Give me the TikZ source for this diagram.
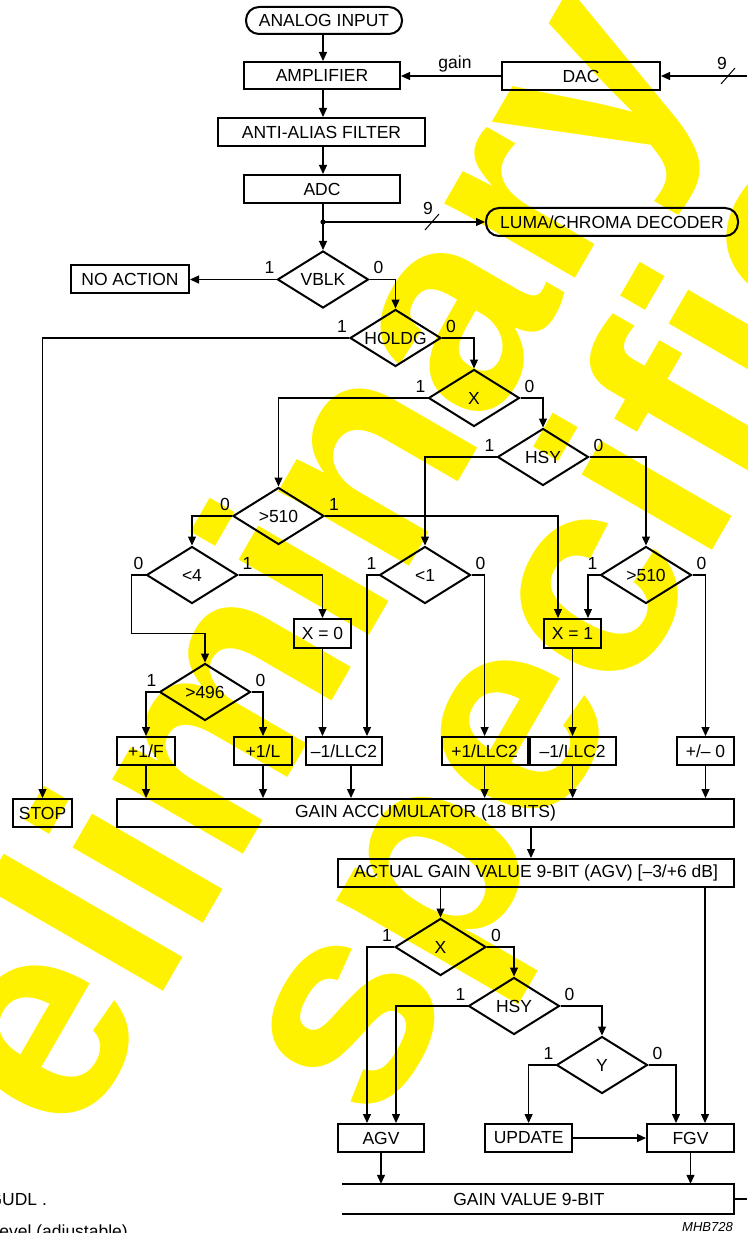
\documentclass[tikz,border=0pt]{standalone}
\usepackage{fontspec}
\setmainfont{Liberation Sans}
\usetikzlibrary{shapes.geometric,arrows.meta}
\newcommand\dfs{\fontsize{17.5}{20}\selectfont}
\newcommand\wmfs{\fontsize{285}{300}\selectfont\bfseries}
\begin{document}
\begin{tikzpicture}[x=1pt,y=-1pt,
 txt/.style={font=\dfs, inner sep=0pt},
 bx/.style={draw, line width=2pt, font=\dfs, inner sep=0pt, minimum height=28pt},
 rbx/.style={bx, rounded corners=13pt},
 dia/.style={draw, diamond, aspect=1.58, minimum width=91pt, minimum height=57pt, inner sep=0pt, line width=2pt, font=\dfs},
 conn/.style={line width=1.2pt, -{Triangle[length=9pt,width=8pt]}},
 ln/.style={line width=1.2pt},
 lab/.style={font=\dfs, inner sep=0pt},
 wm/.style={font=\wmfs, text=yellow, inner sep=0pt}
]
\useasboundingbox (0,0) rectangle (747,1233);
\begin{scope}
\clip (0,0) rectangle (747,1233);
\node[wm, rotate=60, anchor=base west] (wm1) at (-76,1407) {Preliminary};
\node[wm, rotate=60, anchor=base west] (wm2) at (378,1130) {specification};
\fill[white] (0,1163) rectangle (310,1233);
\end{scope}

% side texts
\node[txt, anchor=base west] (gudl) at (-11.6,1205) {GUDL .};
\node[txt, anchor=base east] (lvl) at (128,1237) {level (adjustable)};
\node[font=\fontsize{13}{15}\selectfont\itshape, inner sep=0pt, anchor=base east] (mhb) at (733,1231.5) {MHB728};

% top chain
\node[rbx, minimum width=156pt, minimum height=27pt] (ain) at (324,20.5) {ANALOG INPUT};
\node[bx, minimum width=156pt, minimum height=27pt] (amp) at (322,75.5) {AMPLIFIER};
\node[bx, minimum width=158pt] (dac) at (581,76) {DAC};
\node[bx, minimum width=207pt] (aaf) at (321.5,132) {ANTI-ALIAS FILTER};
\node[bx, minimum width=156pt] (adc) at (322,189) {ADC};
\node[rbx, minimum width=252pt] (luma) at (612,222) {LUMA/CHROMA DECODER};
\node[dia] (vblk) at (323,279.5) {VBLK};
\node[bx, minimum width=118pt] (noact) at (130,279) {NO ACTION};

\node[dia] (holdg) at (395.5,338) {HOLDG};
\node[dia] (xa) at (474,398) {X};
\node[dia] (hsya) at (543,457) {HSY};
\node[dia] (gta) at (278.5,516) {>510};
\node[dia] (lt4) at (192,575) {<4};
\node[dia] (lt1) at (425,575) {<1};
\node[dia] (gtb) at (646,575) {>510};
\node[bx, minimum width=57pt, minimum height=29pt] (xzero) at (322.5,633.5) {X = 0};
\node[bx, minimum width=57pt, minimum height=29pt] (xone) at (572.5,633.5) {X = 1};
\node[dia] (gt496) at (205,692) {>496};

\node[bx, minimum width=58pt] (pf) at (146,751) {+1/F};
\node[bx, minimum width=58pt] (pl) at (263,751) {+1/L};
\node[bx, minimum width=76pt] (mla) at (344,751) {–1/LLC2};
\node[bx, minimum width=86pt] (pla) at (484.6,751) {+1/LLC2};
\node[bx, minimum width=86pt] (mlb) at (572.6,751) {–1/LLC2};
\node[bx, minimum width=57pt] (pmz) at (705.5,751) {+/– 0};
\node[bx, minimum width=617pt] (gacc) at (425.5,813) {GAIN ACCUMULATOR (18 BITS)};
\node[bx, minimum width=59pt] (stop) at (42.5,813) {STOP};
\node[bx, minimum width=396pt] (agvn) at (536,873) {ACTUAL GAIN VALUE 9-BIT (AGV) [–3/+6 dB]};

\node[dia] (xb) at (440.5,947) {X};
\node[dia] (hsyb) at (514,1006) {HSY};
\node[dia] (ydia) at (602,1065) {Y};
\node[bx, minimum width=86pt] (agv) at (381,1138) {AGV};
\node[bx, minimum width=87pt] (upd) at (528.6,1138) {UPDATE};
\node[bx, minimum width=87pt] (fgv) at (690.5,1138) {FGV};
\node[txt, minimum width=392pt, minimum height=30pt] (gv) at (538,1199) {\hspace*{-18pt}GAIN VALUE 9-BIT};
\draw[line width=2pt] (gv.north west) -- (gv.north east) -- (gv.south east) -- (gv.south west);
\coordinate (gvout) at (747,1199);
\draw[ln] (gv.east) -- (gvout);

% connectors top
\draw[conn] (vblk.north |- ain.south) -- (vblk.north |- amp.north);
\draw[conn] (vblk.north |- amp.south) -- (vblk.north |- aaf.north);
\draw[conn] (vblk.north |- aaf.south) -- (vblk.north |- adc.north);
\draw[conn] (vblk.north |- adc.south) -- (vblk.north);
\coordinate (jn) at (vblk.north |- luma.west);
\fill (jn) circle (2.6pt);
\draw[conn] (jn) -- (luma.west);
\coordinate (sl1) at (432,222);
\draw[line width=1pt] ([shift={(-7pt,-8pt)}]sl1) -- ([shift={(7pt,8pt)}]sl1);
\node[lab] (n9a) at (428,208) {9};
\coordinate (din) at (747,76);
\draw[conn] (din) -- (dac.east);
\coordinate (sl2) at (728,76);
\draw[line width=1pt] ([shift={(-7pt,-8pt)}]sl2) -- ([shift={(7pt,8pt)}]sl2);
\node[lab] (n9b) at (722,63) {9};
\draw[conn] (dac.west) -- (amp.east |- dac.west);
\node[lab] (gain) at (455,64) {gain};

\draw[conn] (vblk.west) -- (noact.east |- vblk.west);
\draw[conn] (vblk.east) -| (holdg.north);
\draw[conn] (holdg.west) -| (stop.north);
\draw[conn] (holdg.east) -| (xa.north);
\draw[conn] (xa.west) -| (gta.north);
\draw[conn] (xa.east) -| (hsya.north);
\draw[conn] (hsya.west) -| (lt1.north);
\draw[conn] (hsya.east) -| (gtb.north);
\draw[conn] (gta.west) -| (lt4.north);
\draw[conn] (gta.east) -| ([xshift=-14.5pt]xone.north);
\draw[conn] (gtb.west) -| ([xshift=15.5pt]xone.north);
\draw[conn] (gtb.east) -| (pmz.north);
\draw[conn] (lt4.east) -| (xzero.north);
\draw[conn] (lt4.west) -- ++(-14,0) |- ([yshift=29pt]gt496.north) -- (gt496.north);
\draw[conn] (gt496.west) -| (pf.north);
\draw[conn] (gt496.east) -| (pl.north);
\draw[conn] (xzero.south) -- (xzero.south |- mla.north);
\draw[conn] (lt1.west) -| ([xshift=23pt]mla.north);
\draw[conn] (lt1.east) -| (pla.north);
\draw[conn] (xone.south) -- (xone.south |- mlb.north);

\draw[conn] (pf.south) -- (pf.south |- gacc.north);
\draw[conn] (pl.south) -- (pl.south |- gacc.north);
\draw[conn] ([xshift=7pt]mla.south) -- ([xshift=7pt]mla.south |- gacc.north);
\draw[conn] (pla.south) -- (pla.south |- gacc.north);
\draw[conn] (mlb.south) -- (mlb.south |- gacc.north);
\draw[conn] (pmz.south) -- (pmz.south |- gacc.north);

\draw[conn] ([xshift=-5pt]agvn.north |- gacc.south) -- ([xshift=-5pt]agvn.north);
\draw[conn] (xb.north |- agvn.south) -- (xb.north);
\draw[conn] ([xshift=14.5pt]fgv.north |- agvn.south) -- ([xshift=14.5pt]fgv.north);
\draw[conn] (xb.west) -| ([xshift=-14pt]agv.north);
\draw[conn] (xb.east) -| (hsyb.north);
\draw[conn] (hsyb.west) -| ([xshift=15pt]agv.north);
\draw[conn] (hsyb.east) -| (ydia.north);
\draw[conn] (ydia.west) -| (upd.north);
\draw[conn] (ydia.east) -| ([xshift=-14.5pt]fgv.north);
\draw[conn] (upd.east) -- (fgv.west);
\draw[conn] (agv.south) -- (agv.south |- gv.north);
\draw[conn] (fgv.south) -- (fgv.south |- gv.north);

% branch labels
\foreach \d in {vblk,holdg,xa,hsya,lt1,gtb,gt496,xb,hsyb,ydia}{
  \node[lab] (\d one) at ([shift={(-7pt,12pt)}]\d.west) {1};
  \node[lab] (\d zero) at ([shift={(9pt,12pt)}]\d.east) {0};
}
\foreach \d in {gta,lt4}{
  \node[lab] (\d zero) at ([shift={(-7pt,12pt)}]\d.west) {0};
  \node[lab] (\d one) at ([shift={(9pt,12pt)}]\d.east) {1};
}
\end{tikzpicture}
\end{document}
